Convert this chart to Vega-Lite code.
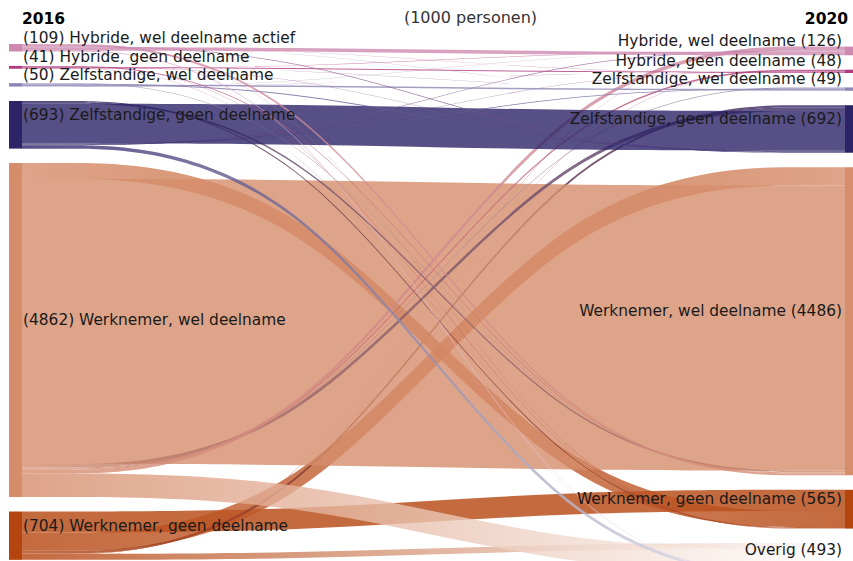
{
  "$schema": "https://vega.github.io/schema/vega-lite/v6.json",
  "width": 823,
  "height": 561,
  "autosize": "none",
  "padding": {"left": 22, "right": 8, "top": 0, "bottom": 0},
  "title": {"text": "(1000 personen)", "fontSize": 16, "fontWeight": "normal", "font": "DejaVu Sans", "color": "#333333", "anchor": "middle", "dx": 37, "offset": -26},
  "config": {"view": {"stroke": null}, "font": "DejaVu Sans"},
  "datasets": {
    "links": [
      {"s": "WG", "t": "WG", "v": 307}, {"s": "WG", "t": "WW", "v": 266}, {"s": "WG", "t": "ZG", "v": 35}, {"s": "WG", "t": "ZW", "v": 2}, {"s": "WG", "t": "HG", "v": 3}, {"s": "WG", "t": "HW", "v": 4}, {"s": "WG", "t": "OV", "v": 87},
      {"s": "WW", "t": "WG", "v": 233}, {"s": "WW", "t": "WW", "v": 4149}, {"s": "WW", "t": "ZG", "v": 50}, {"s": "WW", "t": "ZW", "v": 12}, {"s": "WW", "t": "HG", "v": 20}, {"s": "WW", "t": "HW", "v": 55}, {"s": "WW", "t": "OV", "v": 343},
      {"s": "ZG", "t": "WG", "v": 15}, {"s": "ZG", "t": "WW", "v": 25}, {"s": "ZG", "t": "ZG", "v": 578}, {"s": "ZG", "t": "ZW", "v": 10}, {"s": "ZG", "t": "HG", "v": 5}, {"s": "ZG", "t": "HW", "v": 10}, {"s": "ZG", "t": "OV", "v": 50},
      {"s": "ZW", "t": "WG", "v": 2}, {"s": "ZW", "t": "WW", "v": 6}, {"s": "ZW", "t": "ZG", "v": 15}, {"s": "ZW", "t": "ZW", "v": 22}, {"s": "ZW", "t": "HG", "v": 2}, {"s": "ZW", "t": "HW", "v": 3},
      {"s": "HG", "t": "WG", "v": 4}, {"s": "HG", "t": "WW", "v": 10}, {"s": "HG", "t": "ZG", "v": 4}, {"s": "HG", "t": "ZW", "v": 1}, {"s": "HG", "t": "HG", "v": 15}, {"s": "HG", "t": "HW", "v": 5}, {"s": "HG", "t": "OV", "v": 2},
      {"s": "HW", "t": "WG", "v": 4}, {"s": "HW", "t": "WW", "v": 30}, {"s": "HW", "t": "ZG", "v": 10}, {"s": "HW", "t": "ZW", "v": 2}, {"s": "HW", "t": "HG", "v": 3}, {"s": "HW", "t": "HW", "v": 49}, {"s": "HW", "t": "OV", "v": 11}
    ],
    "names": [
      {"id": "HW", "n2016": "Hybride, wel deelname actief", "n2020": "Hybride, wel deelname"},
      {"id": "HG", "n2016": "Hybride, geen deelname", "n2020": "Hybride, geen deelname"},
      {"id": "ZW", "n2016": "Zelfstandige, wel deelname", "n2020": "Zelfstandige, wel deelname"},
      {"id": "ZG", "n2016": "Zelfstandige, geen deelname", "n2020": "Zelfstandige, geen deelname"},
      {"id": "WW", "n2016": "Werknemer, wel deelname", "n2020": "Werknemer, wel deelname"},
      {"id": "WG", "n2016": "Werknemer, geen deelname", "n2020": "Werknemer, geen deelname"},
      {"id": "OV", "n2016": "Overig", "n2020": "Overig"}
    ]
  },
  "layer": [
    {
      "data": {"name": "links"},
      "transform": [
        {"calculate": "indexof(['HW','HG','ZW','ZG','WW','WG','OV'], datum.s)", "as": "sd"},
        {"calculate": "indexof(['HW','HG','ZW','ZG','WW','WG','OV'], datum.t)", "as": "td"},
        {"calculate": "indexof(['WG','WW','ZG','ZW','HG','HW','OV'], datum.s)", "as": "sc"},
        {"calculate": "indexof(['WG','WW','ZG','ZW','HG','HW','OV'], datum.t)", "as": "tc"},
        {"calculate": "datum.s + datum.t", "as": "k"},
        {"stack": "v", "groupby": [], "sort": [{"field": "sd"}, {"field": "tc"}], "as": ["s0", "s1"]},
        {"stack": "v", "groupby": [], "sort": [{"field": "td"}, {"field": "sc"}], "as": ["t0", "t1"]},
        {"calculate": "datum.s0 + 210 * datum.sd", "as": "2016"},
        {"calculate": "datum.s0 + 210 * datum.sd", "as": "2017"},
        {"calculate": "datum.t0 + 210 * datum.td + 38", "as": "2019"},
        {"calculate": "datum.t0 + 210 * datum.td + 38", "as": "2020"},
        {"fold": ["2016", "2017", "2019", "2020"], "as": ["pos", "y"]},
        {"calculate": "datum.y + datum.v", "as": "y2"}
      ],
      "mark": {"type": "area", "interpolate": "basis", "fillOpacity": 0.8},
      "encoding": {
        "x": {"field": "pos", "type": "ordinal", "scale": {"type": "point", "padding": 0, "domain": ["2016", "2017", "2019", "2020"]}, "axis": null},
        "y": {"field": "y", "type": "quantitative", "stack": null, "scale": {"domain": [-640.5, 7525.5], "reverse": true, "nice": false, "zero": false}, "axis": null},
        "y2": {"field": "y2"},
        "detail": {"field": "k", "type": "nominal"},
        "fill": {
          "condition": [
            {"test": "datum.k==='WGWG'", "value": "#b5450f"},
            {"test": "datum.k==='WGWW'", "value": {"gradient": "linear", "x1": 0, "y1": 0, "x2": 1, "y2": 0, "stops": [{"offset": 0, "color": "#b5450f"}, {"offset": 1, "color": "#d68d6b"}]}},
            {"test": "datum.k==='WGZG'", "value": {"gradient": "linear", "x1": 0, "y1": 0, "x2": 1, "y2": 0, "stops": [{"offset": 0, "color": "#b5450f"}, {"offset": 1, "color": "#2d2468"}]}},
            {"test": "datum.k==='WGZW'", "value": {"gradient": "linear", "x1": 0, "y1": 0, "x2": 1, "y2": 0, "stops": [{"offset": 0, "color": "#b5450f"}, {"offset": 1, "color": "#8c86b4"}]}},
            {"test": "datum.k==='WGHG'", "value": {"gradient": "linear", "x1": 0, "y1": 0, "x2": 1, "y2": 0, "stops": [{"offset": 0, "color": "#b5450f"}, {"offset": 1, "color": "#b13a7e"}]}},
            {"test": "datum.k==='WGHW'", "value": {"gradient": "linear", "x1": 0, "y1": 0, "x2": 1, "y2": 0, "stops": [{"offset": 0, "color": "#b5450f"}, {"offset": 1, "color": "#cd89b0"}]}},
            {"test": "datum.k==='WGOV'", "value": {"gradient": "linear", "x1": 0, "y1": 0, "x2": 1, "y2": 0, "stops": [{"offset": 0, "color": "#b5450f"}, {"offset": 1, "color": "#ffffff"}]}},
            {"test": "datum.k==='WWWG'", "value": {"gradient": "linear", "x1": 0, "y1": 0, "x2": 1, "y2": 0, "stops": [{"offset": 0, "color": "#d68d6b"}, {"offset": 1, "color": "#b5450f"}]}},
            {"test": "datum.k==='WWWW'", "value": "#d68d6b"},
            {"test": "datum.k==='WWZG'", "value": {"gradient": "linear", "x1": 0, "y1": 0, "x2": 1, "y2": 0, "stops": [{"offset": 0, "color": "#d68d6b"}, {"offset": 1, "color": "#2d2468"}]}},
            {"test": "datum.k==='WWZW'", "value": {"gradient": "linear", "x1": 0, "y1": 0, "x2": 1, "y2": 0, "stops": [{"offset": 0, "color": "#d68d6b"}, {"offset": 1, "color": "#8c86b4"}]}},
            {"test": "datum.k==='WWHG'", "value": {"gradient": "linear", "x1": 0, "y1": 0, "x2": 1, "y2": 0, "stops": [{"offset": 0, "color": "#d68d6b"}, {"offset": 1, "color": "#b13a7e"}]}},
            {"test": "datum.k==='WWHW'", "value": {"gradient": "linear", "x1": 0, "y1": 0, "x2": 1, "y2": 0, "stops": [{"offset": 0, "color": "#d68d6b"}, {"offset": 1, "color": "#cd89b0"}]}},
            {"test": "datum.k==='WWOV'", "value": {"gradient": "linear", "x1": 0, "y1": 0, "x2": 1, "y2": 0, "stops": [{"offset": 0, "color": "#d68d6b"}, {"offset": 1, "color": "#ffffff"}]}},
            {"test": "datum.k==='ZGWG'", "value": {"gradient": "linear", "x1": 0, "y1": 0, "x2": 1, "y2": 0, "stops": [{"offset": 0, "color": "#2d2468"}, {"offset": 1, "color": "#b5450f"}]}},
            {"test": "datum.k==='ZGWW'", "value": {"gradient": "linear", "x1": 0, "y1": 0, "x2": 1, "y2": 0, "stops": [{"offset": 0, "color": "#2d2468"}, {"offset": 1, "color": "#d68d6b"}]}},
            {"test": "datum.k==='ZGZG'", "value": "#2d2468"},
            {"test": "datum.k==='ZGZW'", "value": {"gradient": "linear", "x1": 0, "y1": 0, "x2": 1, "y2": 0, "stops": [{"offset": 0, "color": "#2d2468"}, {"offset": 1, "color": "#8c86b4"}]}},
            {"test": "datum.k==='ZGHG'", "value": {"gradient": "linear", "x1": 0, "y1": 0, "x2": 1, "y2": 0, "stops": [{"offset": 0, "color": "#2d2468"}, {"offset": 1, "color": "#b13a7e"}]}},
            {"test": "datum.k==='ZGHW'", "value": {"gradient": "linear", "x1": 0, "y1": 0, "x2": 1, "y2": 0, "stops": [{"offset": 0, "color": "#2d2468"}, {"offset": 1, "color": "#cd89b0"}]}},
            {"test": "datum.k==='ZGOV'", "value": {"gradient": "linear", "x1": 0, "y1": 0, "x2": 1, "y2": 0, "stops": [{"offset": 0, "color": "#2d2468"}, {"offset": 1, "color": "#ffffff"}]}},
            {"test": "datum.k==='ZWWG'", "value": {"gradient": "linear", "x1": 0, "y1": 0, "x2": 1, "y2": 0, "stops": [{"offset": 0, "color": "#8c86b4"}, {"offset": 1, "color": "#b5450f"}]}},
            {"test": "datum.k==='ZWWW'", "value": {"gradient": "linear", "x1": 0, "y1": 0, "x2": 1, "y2": 0, "stops": [{"offset": 0, "color": "#8c86b4"}, {"offset": 1, "color": "#d68d6b"}]}},
            {"test": "datum.k==='ZWZG'", "value": {"gradient": "linear", "x1": 0, "y1": 0, "x2": 1, "y2": 0, "stops": [{"offset": 0, "color": "#8c86b4"}, {"offset": 1, "color": "#2d2468"}]}},
            {"test": "datum.k==='ZWZW'", "value": "#8c86b4"},
            {"test": "datum.k==='ZWHG'", "value": {"gradient": "linear", "x1": 0, "y1": 0, "x2": 1, "y2": 0, "stops": [{"offset": 0, "color": "#8c86b4"}, {"offset": 1, "color": "#b13a7e"}]}},
            {"test": "datum.k==='ZWHW'", "value": {"gradient": "linear", "x1": 0, "y1": 0, "x2": 1, "y2": 0, "stops": [{"offset": 0, "color": "#8c86b4"}, {"offset": 1, "color": "#cd89b0"}]}},
            {"test": "datum.k==='HGWG'", "value": {"gradient": "linear", "x1": 0, "y1": 0, "x2": 1, "y2": 0, "stops": [{"offset": 0, "color": "#b13a7e"}, {"offset": 1, "color": "#b5450f"}]}},
            {"test": "datum.k==='HGWW'", "value": {"gradient": "linear", "x1": 0, "y1": 0, "x2": 1, "y2": 0, "stops": [{"offset": 0, "color": "#b13a7e"}, {"offset": 1, "color": "#d68d6b"}]}},
            {"test": "datum.k==='HGZG'", "value": {"gradient": "linear", "x1": 0, "y1": 0, "x2": 1, "y2": 0, "stops": [{"offset": 0, "color": "#b13a7e"}, {"offset": 1, "color": "#2d2468"}]}},
            {"test": "datum.k==='HGZW'", "value": {"gradient": "linear", "x1": 0, "y1": 0, "x2": 1, "y2": 0, "stops": [{"offset": 0, "color": "#b13a7e"}, {"offset": 1, "color": "#8c86b4"}]}},
            {"test": "datum.k==='HGHG'", "value": "#b13a7e"},
            {"test": "datum.k==='HGHW'", "value": {"gradient": "linear", "x1": 0, "y1": 0, "x2": 1, "y2": 0, "stops": [{"offset": 0, "color": "#b13a7e"}, {"offset": 1, "color": "#cd89b0"}]}},
            {"test": "datum.k==='HGOV'", "value": {"gradient": "linear", "x1": 0, "y1": 0, "x2": 1, "y2": 0, "stops": [{"offset": 0, "color": "#b13a7e"}, {"offset": 1, "color": "#ffffff"}]}},
            {"test": "datum.k==='HWWG'", "value": {"gradient": "linear", "x1": 0, "y1": 0, "x2": 1, "y2": 0, "stops": [{"offset": 0, "color": "#cd89b0"}, {"offset": 1, "color": "#b5450f"}]}},
            {"test": "datum.k==='HWWW'", "value": {"gradient": "linear", "x1": 0, "y1": 0, "x2": 1, "y2": 0, "stops": [{"offset": 0, "color": "#cd89b0"}, {"offset": 1, "color": "#d68d6b"}]}},
            {"test": "datum.k==='HWZG'", "value": {"gradient": "linear", "x1": 0, "y1": 0, "x2": 1, "y2": 0, "stops": [{"offset": 0, "color": "#cd89b0"}, {"offset": 1, "color": "#2d2468"}]}},
            {"test": "datum.k==='HWZW'", "value": {"gradient": "linear", "x1": 0, "y1": 0, "x2": 1, "y2": 0, "stops": [{"offset": 0, "color": "#cd89b0"}, {"offset": 1, "color": "#8c86b4"}]}},
            {"test": "datum.k==='HWHG'", "value": {"gradient": "linear", "x1": 0, "y1": 0, "x2": 1, "y2": 0, "stops": [{"offset": 0, "color": "#cd89b0"}, {"offset": 1, "color": "#b13a7e"}]}},
            {"test": "datum.k==='HWHW'", "value": "#cd89b0"},
            {"test": "datum.k==='HWOV'", "value": {"gradient": "linear", "x1": 0, "y1": 0, "x2": 1, "y2": 0, "stops": [{"offset": 0, "color": "#cd89b0"}, {"offset": 1, "color": "#ffffff"}]}}
          ],
          "value": "#cccccc"
        }
      }
    },
    {
      "data": {"name": "links"},
      "transform": [
        {"aggregate": [{"op": "sum", "field": "v", "as": "total"}], "groupby": ["s"]},
        {"calculate": "indexof(['HW','HG','ZW','ZG','WW','WG','OV'], datum.s)", "as": "d"},
        {"stack": "total", "groupby": [], "sort": [{"field": "d"}], "as": ["n0", "n1"]},
        {"calculate": "datum.n0 + 210 * datum.d", "as": "top"},
        {"calculate": "datum.n1 + 210 * datum.d", "as": "bot"},
        {"calculate": "(datum.top + datum.bot) / 2", "as": "mid"},
        {"lookup": "s", "from": {"data": {"name": "names"}, "key": "id", "fields": ["n2016"]}},
        {"calculate": "'(' + datum.total + ') ' + datum.n2016", "as": "label"}
      ],
      "layer": [
        {
          "mark": {"type": "bar", "width": 13, "xOffset": -6.5},
          "encoding": {
            "x": {"datum": "2016", "type": "ordinal", "axis": null},
            "y": {"field": "top", "type": "quantitative", "axis": null},
            "y2": {"field": "bot"},
            "fill": {"field": "s", "type": "nominal", "legend": null, "scale": {"domain": ["HW", "HG", "ZW", "ZG", "WW", "WG", "OV"], "range": ["#cd89b0", "#b13a7e", "#8c86b4", "#2d2468", "#d68d6b", "#b5450f", "#ffffff"]}}
          }
        },
        {
          "mark": {"type": "text", "align": "left", "baseline": "middle", "dx": 1, "dy": -10, "fontSize": 15.4, "color": "#1a1a1a"},
          "encoding": {
            "x": {"datum": "2016", "type": "ordinal", "axis": null},
            "y": {"field": "mid", "type": "quantitative", "axis": null},
            "text": {"field": "label"}
          }
        }
      ]
    },
    {
      "data": {"name": "links"},
      "transform": [
        {"aggregate": [{"op": "sum", "field": "v", "as": "total"}], "groupby": ["t"]},
        {"calculate": "indexof(['HW','HG','ZW','ZG','WW','WG','OV'], datum.t)", "as": "d"},
        {"stack": "total", "groupby": [], "sort": [{"field": "d"}], "as": ["n0", "n1"]},
        {"calculate": "datum.n0 + 210 * datum.d + 38", "as": "top"},
        {"calculate": "datum.n1 + 210 * datum.d + 38", "as": "bot"},
        {"calculate": "(datum.top + datum.bot) / 2", "as": "mid"},
        {"lookup": "t", "from": {"data": {"name": "names"}, "key": "id", "fields": ["n2020"]}},
        {"calculate": "datum.n2020 + ' (' + datum.total + ')'", "as": "label"}
      ],
      "layer": [
        {
          "mark": {"type": "bar", "width": 13, "xOffset": 6.5},
          "encoding": {
            "x": {"datum": "2020", "type": "ordinal", "axis": null},
            "y": {"field": "top", "type": "quantitative", "axis": null},
            "y2": {"field": "bot"},
            "fill": {"field": "t", "type": "nominal", "legend": null, "scale": {"domain": ["HW", "HG", "ZW", "ZG", "WW", "WG", "OV"], "range": ["#cd89b0", "#b13a7e", "#8c86b4", "#2d2468", "#d68d6b", "#b5450f", "#ffffff"]}}
          }
        },
        {
          "mark": {"type": "text", "align": "right", "baseline": "middle", "dx": -3, "dy": -10, "fontSize": 15.4, "color": "#1a1a1a"},
          "encoding": {
            "x": {"datum": "2020", "type": "ordinal", "axis": null},
            "y": {"field": "mid", "type": "quantitative", "axis": null},
            "text": {"field": "label"}
          }
        }
      ]
    },
    {
      "data": {"values": [{"year": "2016"}]},
      "mark": {"type": "text", "align": "left", "baseline": "middle", "fontSize": 15.5, "fontWeight": "bold", "color": "#000000"},
      "encoding": {
        "x": {"field": "year", "type": "ordinal", "axis": null},
        "y": {"datum": -370, "type": "quantitative", "axis": null},
        "text": {"field": "year"}
      }
    },
    {
      "data": {"values": [{"year": "2020"}]},
      "mark": {"type": "text", "align": "right", "baseline": "middle", "dx": 3, "fontSize": 15.5, "fontWeight": "bold", "color": "#000000"},
      "encoding": {
        "x": {"field": "year", "type": "ordinal", "axis": null},
        "y": {"datum": -370, "type": "quantitative", "axis": null},
        "text": {"field": "year"}
      }
    }
  ]
}
